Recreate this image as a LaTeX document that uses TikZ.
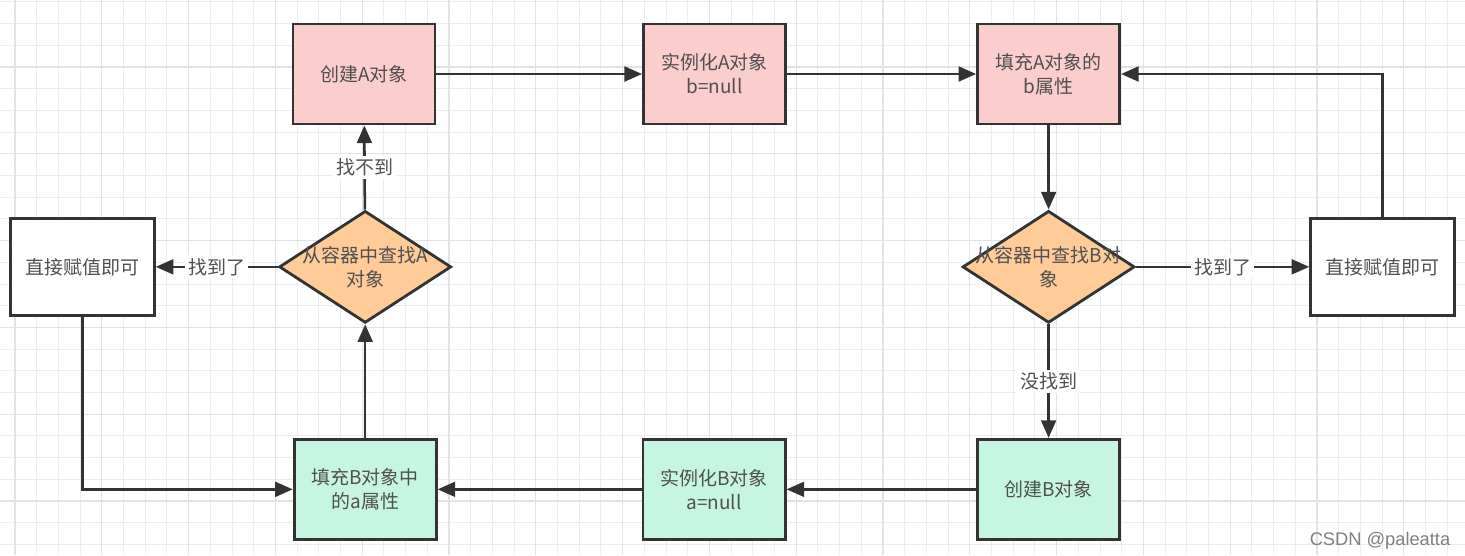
\documentclass[tikz,border=0pt]{standalone}
\usepackage{fontspec}
\setmainfont{Noto Sans CJK SC}
\newfontfamily\marcafont{Liberation Sans}
\usetikzlibrary{arrows.meta,positioning,shapes.geometric}
\definecolor{Trazo}{RGB}{51,51,51}
\definecolor{RosaPalido}{RGB}{250,206,204}
\definecolor{VerdeAgua}{RGB}{198,246,226}
\definecolor{Naranja}{RGB}{255,204,153}
\definecolor{TextoGris}{RGB}{80,80,80}
\definecolor{RejillaFina}{RGB}{236,236,236}
\definecolor{RejillaGruesa}{RGB}{226,226,226}
\tikzset{
  pasobox/.style={draw=Trazo, line width=2pt, fill=#1, minimum width=3.55cm,
    minimum height=2.5cm, align=center, text=TextoGris, font=\fontsize{13.5}{17}\selectfont, inner sep=3pt},
  pasobox/.default=RosaPalido,
  finbox/.style={draw=Trazo, line width=2pt, fill=white, minimum width=3.6cm,
    minimum height=2.43cm, align=center, text=TextoGris, font=\fontsize{13.5}{17}\selectfont},
  decisionbox/.style={diamond, draw=Trazo, line width=2pt, fill=Naranja, minimum width=4.3cm,
    minimum height=2.8cm, inner sep=0pt, align=center, text=TextoGris, font=\fontsize{13.5}{17}\selectfont},
  flecha/.style={-{Triangle[length=4.4mm, width=3.7mm]}, line width=1.8pt, Trazo},
  etiqueta/.style={fill=white, text=TextoGris, font=\fontsize{13.5}{15}\selectfont, inner sep=2pt},
  rejilla/.style={RejillaFina, line width=0.6pt},
  rejillamayor/.style={RejillaGruesa, line width=0.8pt},
}

\begin{document}
\begin{tikzpicture}[x=0.025cm, y=-0.025cm]
    \useasboundingbox (0,0) rectangle (1465,555);
    \fill[white] (0,0) rectangle (1465,555);
    % rejilla de fondo
    \foreach \k in {0,...,67} \draw[rejilla] ({15+21.7*\k},0) -- ({15+21.7*\k},555);
    \foreach \k in {0,...,25} \draw[rejilla] (0,{1.9+21.7*\k}) -- (1465,{1.9+21.7*\k});
    \foreach \k in {0,...,16} \draw[rejillamayor] ({15+86.8*\k},0) -- ({15+86.8*\k},555);
    \foreach \k in {0,...,5} \draw[rejillamayor] (0,{67+86.8*\k}) -- (1465,{67+86.8*\k});

    % fila de A
    \node[pasobox] (creaA) at (364,74) {创建A对象};
    \node[pasobox, right=5.14cm of creaA] (instA) {实例化A对象\\b=null};
    \node[pasobox, right=4.73cm of instA] (llenaA) {填充A对象的\\b属性};
    \node[decisionbox, below=2.1cm of llenaA] (buscaB) {\makebox[0pt]{从容器中查找B对}\\\makebox[0pt]{象}};
    \node[finbox, right=4.33cm of buscaB] (directoDer) {直接赋值即可};
    % fila de B
    \node[pasobox=VerdeAgua, below=2.84cm of buscaB] (creaB) {创建B对象};
    \node[pasobox=VerdeAgua, left=4.74cm of creaB] (instB) {实例化B对象\\a=null};
    \node[pasobox=VerdeAgua, left=5.1cm of instB] (llenaB) {填充B对象中\\的a属性};
    \node[decisionbox, above=2.84cm of llenaB] (buscaA) {\makebox[0pt]{从容器中查找A}\\\makebox[0pt]{对象}};
    \node[finbox, left=3.05cm of buscaA] (directoIzq) {直接赋值即可};

    \draw[flecha] (creaA) -- (instA);
    \draw[flecha] (instA) -- (llenaA);
    \draw[flecha] (llenaA) -- (buscaB);
    \draw[flecha] (buscaB) -- node[etiqueta] {找到了} (directoDer);
    \draw[flecha] (directoDer.north) |- (llenaA.east);
    \draw[flecha] (buscaB) -- node[etiqueta] {没找到} (creaB);
    \draw[flecha] (creaB) -- (instB);
    \draw[flecha] (instB) -- (llenaB);
    \draw[flecha] (llenaB) -- (buscaA);
    \draw[flecha] (buscaA) -- node[etiqueta] {找不到} (creaA);
    \draw[flecha] (buscaA) -- node[etiqueta] {找到了} (directoIzq);
    \draw[flecha] (directoIzq.south) |- (llenaB.west);

    \node[text=black!50, font=\marcafont\fontsize{13}{15}\selectfont] (firma) at (1380,541) {CSDN @paleatta};
\end{tikzpicture}
\end{document}
